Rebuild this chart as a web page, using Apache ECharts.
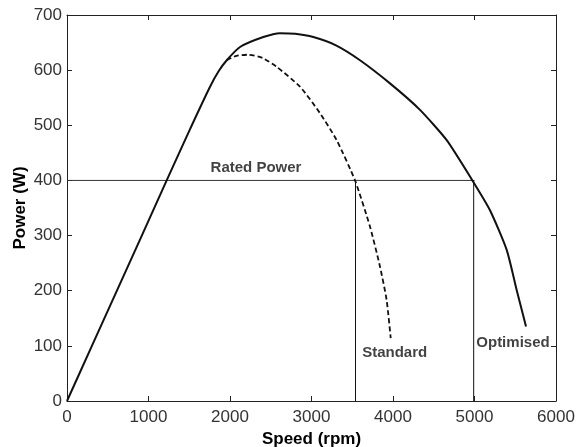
<!DOCTYPE html>
<html>
<head>
<meta charset="utf-8">
<script src="https://cdn.jsdelivr.net/npm/echarts@6/dist/echarts.min.js"></script>
<style>html,body{margin:0;padding:0;background:#fff;}#c{width:576px;height:447px;}</style>
</head>
<body>
<div id="c"></div>
<script>
// Data
var optSpeed = [0, 300, 600, 900, 1223, 1500, 1755, 1860, 1960, 2123, 2409, 2613, 2800, 3022, 3300, 3595, 3963, 4331, 4659, 4974, 5190, 5395, 5518, 5632];
var optPower = [0, 98, 196, 294, 400, 490, 570, 598, 618, 642, 660, 667, 666, 660, 645, 618, 576, 528, 473, 400, 346, 274, 201, 135];
var stdSpeed = [1960, 2080, 2225, 2400, 2573, 2859, 3104, 3309, 3534, 3718, 3840, 3922, 3972];
var stdPower = [618, 626, 628, 622, 606, 570, 522, 473, 400, 316, 244, 183, 114];
var ratedLineSpeed = [0, 5000];
var ratedLinePower = [400, 400];
var stdDropSpeed = [3540, 3540];
var optDropSpeed = [4990, 4990];
var dropPower = [0, 400];
var xTicks = {min: 0, max: 6000, interval: 1000};
var yTicks = {min: 0, max: 700, interval: 100};
var labels = [
  {text: 'Rated Power', speed: 2319, power: 423},
  {text: 'Standard', speed: 4020, power: 87},
  {text: 'Optimised', speed: 5472, power: 106}
];

function zip(a, b) { return a.map(function (v, i) { return [v, b[i]]; }); }

var chart = echarts.init(document.getElementById('c'));
var font = '"Liberation Sans", Arial, sans-serif';
function axisCommon() {
  return {
    axisLine: {show: true, onZero: false, lineStyle: {color: '#222', width: 1}},
    axisTick: {show: true, inside: true, length: 5, lineStyle: {color: '#222'}},
    splitLine: {show: false}
  };
}
var plain = function (v) { return String(v); };
chart.setOption({
  animation: false,
  grid: {left: 67, right: 20, top: 15, bottom: 46, containLabel: false, outerBoundsMode: 'none'},
  xAxis: [
    Object.assign({type: 'value', position: 'bottom', min: xTicks.min, max: xTicks.max, interval: xTicks.interval,
      name: 'Speed (rpm)', nameLocation: 'middle', nameGap: 30, nameMoveOverlap: false,
      nameTextStyle: {fontFamily: font, fontWeight: 'bold', fontSize: 17, color: '#000'},
      axisLabel: {fontFamily: font, fontSize: 17, color: '#333', margin: 8, formatter: plain}}, axisCommon()),
    Object.assign({type: 'value', position: 'top', min: xTicks.min, max: xTicks.max, interval: xTicks.interval,
      axisLabel: {show: false}}, axisCommon())
  ],
  yAxis: [
    Object.assign({type: 'value', position: 'left', min: yTicks.min, max: yTicks.max, interval: yTicks.interval,
      name: 'Power (W)', nameLocation: 'middle', nameGap: 38, nameRotate: 90, nameMoveOverlap: false,
      nameTextStyle: {fontFamily: font, fontWeight: 'bold', fontSize: 17, color: '#000'},
      axisLabel: {fontFamily: font, fontSize: 17, color: '#333', margin: 5, formatter: plain}}, axisCommon()),
    Object.assign({type: 'value', position: 'right', min: yTicks.min, max: yTicks.max, interval: yTicks.interval,
      axisLabel: {show: false}}, axisCommon())
  ],
  series: [
    {type: 'line', data: zip(ratedLineSpeed, ratedLinePower), symbol: 'none', lineStyle: {color: '#333', width: 1}},
    {type: 'line', data: zip(stdDropSpeed, dropPower), symbol: 'none', lineStyle: {color: '#111', width: 1}},
    {type: 'line', data: zip(optDropSpeed, dropPower), symbol: 'none', lineStyle: {color: '#111', width: 1}},
    {type: 'line', name: 'Optimised', data: zip(optSpeed, optPower), symbol: 'none', smooth: 0.2,
      lineStyle: {color: '#111', width: 2}},
    {type: 'line', name: 'Standard', data: zip(stdSpeed, stdPower), symbol: 'none', smooth: 0.2,
      lineStyle: {color: '#111', width: 1.8, type: [5, 3]}},
    {type: 'scatter', symbolSize: 0, data: labels.map(function (l) { return {value: [l.speed, l.power], name: l.text}; }),
      label: {show: true, position: 'inside', formatter: function (p) { return p.name; },
        fontFamily: font, fontWeight: 'bold', fontSize: 15, color: '#111'}}
  ]
});
</script>
</body>
</html>
